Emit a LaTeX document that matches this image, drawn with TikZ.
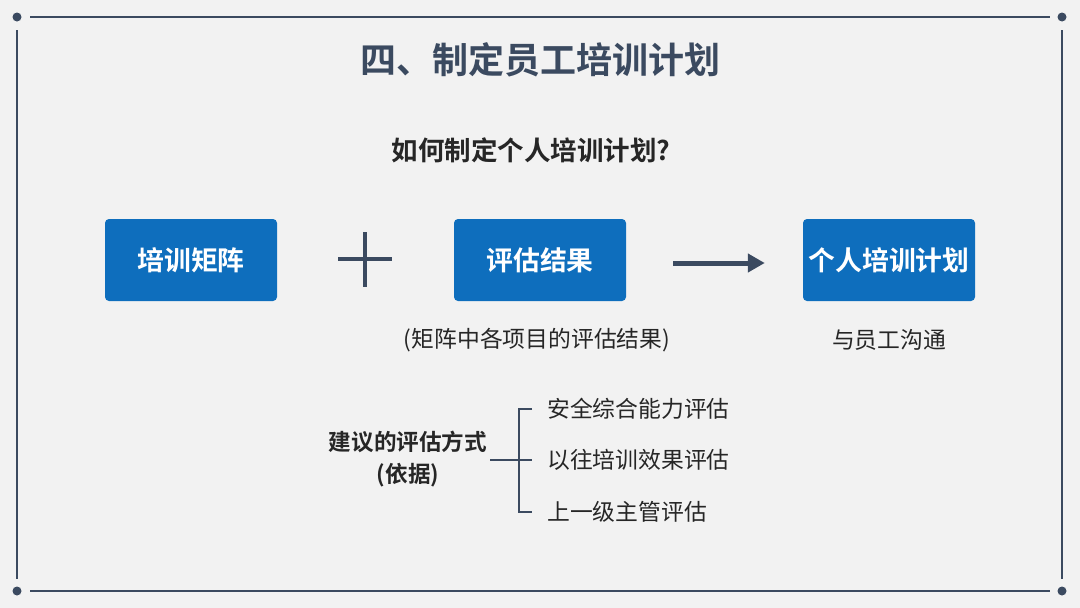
\documentclass[tikz,border=0pt]{standalone}
\usepackage{fontspec}
\setmainfont{Noto Sans CJK SC}[BoldFont={Noto Sans CJK SC Bold}]
\usepackage{tikz}
\usetikzlibrary{arrows.meta,positioning}
\definecolor{pagebg}{HTML}{F2F2F2}
\definecolor{slate}{HTML}{3B4A60}
\definecolor{boxblue}{HTML}{0E6EBD}
\definecolor{textdark}{HTML}{262626}
\tikzset{
  frameline/.style={slate,line width=2.6pt},
  framedot/.style={fill=slate},
  bluebox/.style={fill=boxblue,rounded corners=4pt,minimum width=172pt,minimum height=82pt,
    text=white,font=\fontsize{26.8}{30}\selectfont\bfseries,inner sep=0pt},
  note/.style={text=textdark,font=\fontsize{22.8}{26}\selectfont,inner sep=0pt},
  brk/.style={slate,line width=1.8pt}
}
\begin{document}
\begin{tikzpicture}[x=1pt,y=-1pt]
  \fill[pagebg] (0,0) rectangle (1080,608);
  % frame with corner dots
  \foreach \px/\py in {17/17,1062/17,17/591,1062/591}
    \fill[framedot] (\px,\py) circle (4.5pt);
  \draw[frameline] (30,17) -- (1050,17);
  \draw[frameline] (30,591) -- (1050,591);
  \draw[frameline] (17,30) -- (17,579);
  \draw[frameline] (1062,30) -- (1062,579);
  % titles
  \node (title) at (540,60) [text=slate,font=\fontsize{36}{42}\selectfont\bfseries] {四、制定员工培训计划};
  \node (question) at (531,150) [text=textdark,font=\fontsize{26.5}{30}\selectfont\bfseries] {如何制定个人培训计划?};
  % boxes
  \node[bluebox] (matrix) at (191,260) {培训矩阵};
  \node[bluebox] (result) at (540,260) {评估结果};
  \node[bluebox] (plan) at (889,260) {个人培训计划};
  \node[note] (resnote) at (537,340) {(矩阵中各项目的评估结果)};
  \node[note] (plannote) at (889,340) {与员工沟通};
  % plus sign and arrow
  \coordinate (plus) at (365,259);
  \draw[slate,line width=4.5pt] ([xshift=-27]plus) -- ([xshift=27]plus);
  \draw[slate,line width=4.5pt] ([yshift=27]plus) -- ([yshift=-28]plus);
  \draw[slate,line width=5pt,-{Triangle[length=17pt,width=18pt]}]
    ([xshift=47,yshift=-3]result.east) -- ([xshift=-38,yshift=-3]plan.west);
  % evaluation methods
  \node (way) at (408,459) [align=center,text=textdark,inner sep=0pt,
    font=\fontsize{22.6}{32}\selectfont\bfseries] {建议的评估方式\\(依据)};
  \node[note,anchor=west] (m1) at (547,409) {安全综合能力评估};
  \node[note,anchor=west] (m2) at (547,460) {以往培训效果评估};
  \node[note,anchor=west] (m3) at (547,512) {上一级主管评估};
  \draw[brk] ([xshift=-15]m1.west) -- ++(-13,0) |- ([xshift=-15]m3.west);
  \draw[brk] (490,460) -- ([xshift=-15]m2.west);
\end{tikzpicture}
\end{document}
